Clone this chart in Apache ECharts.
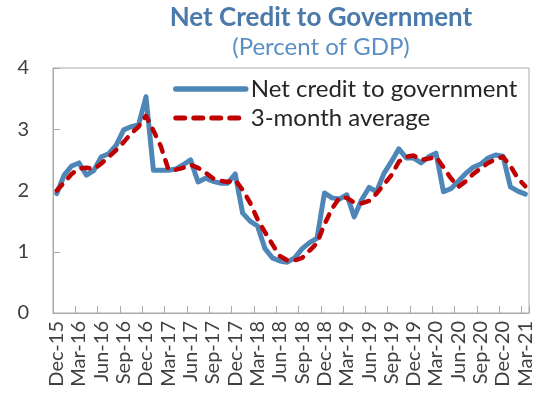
<!DOCTYPE html>
<html>
<head>
<meta charset="utf-8">
<script src="https://cdn.jsdelivr.net/npm/echarts@6/dist/echarts.min.js"></script>
<style>html,body{margin:0;padding:0;background:#fff;}#c{width:543px;height:404px;}</style>
</head>
<body>
<div id="c"></div>
<script>
const months = ['Dec-15','Jan-16','Feb-16','Mar-16','Apr-16','May-16','Jun-16','Jul-16','Aug-16','Sep-16','Oct-16','Nov-16',
'Dec-16','Jan-17','Feb-17','Mar-17','Apr-17','May-17','Jun-17','Jul-17','Aug-17','Sep-17','Oct-17','Nov-17',
'Dec-17','Jan-18','Feb-18','Mar-18','Apr-18','May-18','Jun-18','Jul-18','Aug-18','Sep-18','Oct-18','Nov-18',
'Dec-18','Jan-19','Feb-19','Mar-19','Apr-19','May-19','Jun-19','Jul-19','Aug-19','Sep-19','Oct-19','Nov-19',
'Dec-19','Jan-20','Feb-20','Mar-20','Apr-20','May-20','Jun-20','Jul-20','Aug-20','Sep-20','Oct-20','Nov-20',
'Dec-20','Jan-21','Feb-21','Mar-21'];
const netCredit = [1.95,2.25,2.40,2.45,2.25,2.33,2.55,2.60,2.74,2.99,3.04,3.07,
3.53,2.33,2.33,2.33,2.35,2.42,2.50,2.14,2.20,2.15,2.12,2.12,
2.27,1.63,1.50,1.42,1.05,0.90,0.85,0.83,0.90,1.05,1.15,1.22,
1.96,1.88,1.86,1.93,1.57,1.85,2.05,1.98,2.28,2.47,2.68,2.53,
2.53,2.45,2.55,2.61,1.98,2.03,2.15,2.28,2.38,2.43,2.53,2.58,
2.56,2.06,1.99,1.94];
const avg3m = [2.00,2.13,2.27,2.36,2.37,2.35,2.44,2.55,2.66,2.79,2.93,3.04,
3.22,2.98,2.72,2.35,2.34,2.37,2.42,2.37,2.29,2.20,2.16,2.14,
2.17,2.01,1.80,1.53,1.32,1.12,0.93,0.86,0.86,0.90,1.02,1.14,
1.45,1.70,1.88,1.88,1.80,1.79,1.83,1.95,2.10,2.25,2.47,2.55,
2.57,2.50,2.52,2.55,2.38,2.20,2.06,2.15,2.27,2.36,2.45,2.51,
2.55,2.40,2.20,2.07];
const yMin = 0, yMax = 4, yStep = 1;

const FONT = 'Lato, "Open Sans", sans-serif';
const chart = echarts.init(document.getElementById('c'), null, {renderer: 'canvas'});
chart.setOption({
  animation: false,
  backgroundColor: '#ffffff',
  title: {
    text: 'Net Credit to Government',
    subtext: '(Percent of GDP)',
    left: 316, top: 0, textAlign: 'center', itemGap: 4,
    textStyle: {fontFamily: FONT, fontSize: 26, fontWeight: 'bold', color: '#4a7aab'},
    subtextStyle: {fontFamily: FONT, fontSize: 24, color: '#5b8fc4'}
  },
  legend: {
    orient: 'vertical', left: 168, top: 72, itemWidth: 70, itemHeight: 18, itemGap: 5,
    textStyle: {fontFamily: FONT, fontSize: 24, color: '#262626'},
    itemStyle: {opacity: 0},
    data: [
      {name: 'Net credit to government', lineStyle: {width: 5.5}},
      {name: '3-month average', lineStyle: {width: 5, type: [9, 9]}}
    ]
  },
  grid: {left: 53, right: 14, top: 68, bottom: 91, show: true, borderColor: '#aaaaaa', borderWidth: 1},
  xAxis: {
    type: 'category', data: months, boundaryGap: true,
    axisLine: {lineStyle: {color: '#aaaaaa', width: 1}},
    axisTick: {show: true, inside: true, length: 7, interval: 2, lineStyle: {color: '#aaaaaa'}},
    axisLabel: {interval: 2, rotate: 90, margin: 8, fontFamily: FONT, fontSize: 20, color: '#404040'},
    splitLine: {show: false}
  },
  yAxis: {
    type: 'value', min: yMin, max: yMax, interval: yStep,
    axisLine: {show: true, lineStyle: {color: '#aaaaaa', width: 1}},
    axisTick: {show: true, inside: true, length: 7, lineStyle: {color: '#aaaaaa'}},
    axisLabel: {margin: 24, fontFamily: FONT, fontSize: 20, color: '#404040'},
    splitLine: {show: false}
  },
  series: [
    {name: 'Net credit to government', type: 'line', data: netCredit, symbol: 'none',
     lineStyle: {color: '#4f86b8', width: 5, join: 'round', cap: 'round'}, itemStyle: {color: '#4f86b8'}},
    {name: '3-month average', type: 'line', data: avg3m, symbol: 'none',
     lineStyle: {color: '#c00000', width: 4.5, type: [8, 9], cap: 'round', join: 'round'}, itemStyle: {color: '#c00000'}}
  ]
});
</script>
</body>
</html>
